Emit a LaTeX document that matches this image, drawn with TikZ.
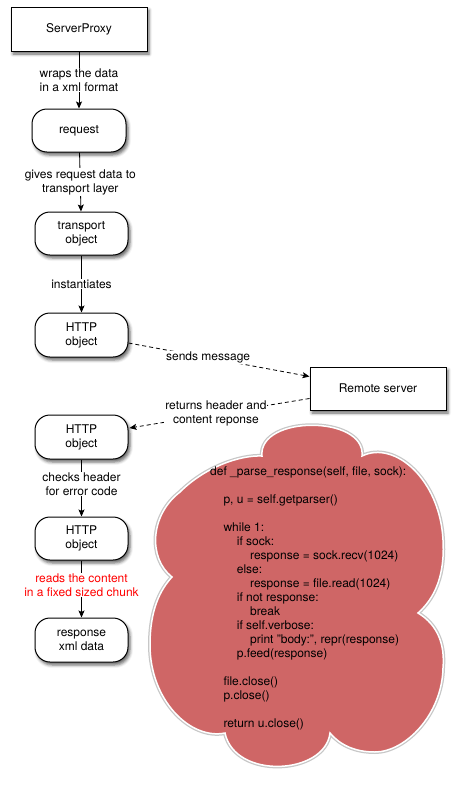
\documentclass[tikz,border=0pt]{standalone}
\usepackage{fontspec}
\setmainfont{TeX Gyre Heros}
\usetikzlibrary{arrows.meta,shadows,shadows.blur}
\definecolor{cloudred}{RGB}{207,102,102}
\newcommand\lbfont{\fontsize{12}{14}\selectfont}
\newcommand\ind{\hspace*{13.33pt}}
\tikzset{
  box/.style={draw=black, line width=1pt, fill=white, minimum width=136pt,
    minimum height=44pt, inner sep=0pt, align=center, font=\lbfont,
    blur shadow={shadow xshift=2pt, shadow yshift=-3pt, shadow blur radius=3pt, shadow opacity=60}},
  pill/.style={box, rounded corners=15pt, minimum width=93pt},
  conn/.style={line width=0.8pt, -{Stealth[length=7pt,width=6pt,inset=1.5pt]}},
  dconn/.style={conn, dash pattern=on 4pt off 3pt},
  lbl/.style={fill=white, inner sep=1pt, align=center, font=\lbfont},
}
\begin{document}
\begin{tikzpicture}[x=1pt,y=-1pt]
\useasboundingbox (0,0) rectangle (469,793);

% cloud
\path[fill=cloudred, draw=white, line width=1.5pt,
      preaction={draw=black!22, line width=4pt}]
  (262,456) .. controls (258,415) and (366,415) .. (362,456)
  .. controls (395,440) and (440,480) .. (443,540)
  .. controls (445,575) and (435,598) .. (418,613)
  .. controls (438,625) and (445,645) .. (443,668)
  .. controls (442,715) and (405,752) .. (375,752)
  .. controls (355,752) and (340,745) .. (330,733)
  .. controls (325,775) and (235,780) .. (225,733)
  .. controls (190,740) and (150,700) .. (150,645)
  .. controls (150,610) and (160,590) .. (172,577)
  .. controls (148,558) and (150,515) .. (180,492)
  .. controls (205,467) and (240,455) .. (262,456) -- cycle;

\node[anchor=north west, inner sep=0pt, align=left, font=\lbfont] (code) at (210,467) {%
def \_parse\_response(self, file, sock):\\[14pt]
\ind p, u = self.getparser()\\[14pt]
\ind while 1:\\
\ind\ind if sock:\\
\ind\ind\ind response = sock.recv(1024)\\
\ind\ind else:\\
\ind\ind\ind response = file.read(1024)\\
\ind\ind if not response:\\
\ind\ind\ind break\\
\ind\ind if self.verbose:\\
\ind\ind\ind print "body:", repr(response)\\
\ind\ind p.feed(response)\\[14pt]
\ind file.close()\\
\ind p.close()\\[14pt]
\ind return u.close()};

% nodes
\node[box] (sp) at (79,29) {ServerProxy};
\node[pill, minimum width=94pt, minimum height=43pt] (req) at (79,130.5) {request};
\node[pill, minimum height=43pt] (tr) at (81.5,233.5) {transport\\object};
\node[pill] (h1) at (81.5,335) {HTTP\\object};
\node[box, minimum height=43pt] (rs) at (378,388.5) {Remote server};
\node[pill] (h2) at (81.5,437) {HTTP\\object};
\node[pill, minimum height=43pt] (h3) at (81.5,538.5) {HTTP\\object};
\node[pill] (rx) at (81.5,640) {response\\xml data};

% connectors
\draw[conn] (sp) -- node[lbl, pos=0.5] {wraps the data\\in a xml format} (req);
\draw[conn] (req) -- node[lbl, pos=0.5] {gives request data to\\transport layer} (tr);
\draw[conn] (tr) -- node[lbl, pos=0.5] {instantiates} (h1);
\draw[dconn] ([yshift=-8pt]h1.east) -- node[lbl, pos=0.44] {sends message} ([yshift=12pt]rs.west);
\draw[dconn] ([yshift=-10pt]rs.west) -- node[lbl, pos=0.52] {returns header and\\content reponse} ([yshift=9pt,xshift=1pt]h2.east);
\draw[conn] (h2) -- node[lbl, pos=0.43] {checks header\\for error code} (h3);
\draw[conn] (h3) -- node[lbl, pos=0.43, text=red] {reads the content\\in a fixed sized chunk} (rx);
\end{tikzpicture}
\end{document}
